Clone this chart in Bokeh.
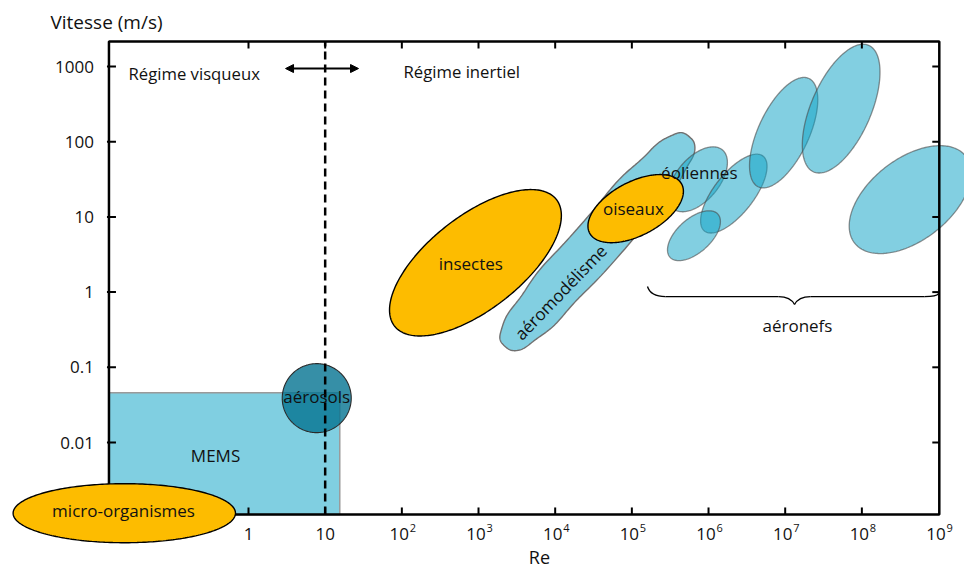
import numpy as np
from bokeh.plotting import figure
from bokeh.models import Range1d, Arrow, NormalHead, ColumnDataSource
from bokeh.core.properties import value
from bokeh.embed import file_html
from bokeh.resources import INLINE

FONT = "Open Sans"
FS = "17px"

# ---------------- data ----------------
re_ticks = [1, 10, 1e2, 1e3, 1e4, 1e5, 1e6, 1e7, 1e8, 1e9]
re_tick_base = ["1", "10", "10", "10", "10", "10", "10", "10", "10", "10"]
re_tick_exp = ["", "", "2", "3", "4", "5", "6", "7", "8", "9"]
v_ticks = [0.01, 0.1, 1, 10, 100, 1000]
v_tick_labels = ["0.01", "0.1", "1", "10", "100", "1000"]

re_critical = 10  # viscous / inertial transition

# orange domains: log10 centres, half axes (decades), tilt (deg)
orange_names = ["micro-organismes", "insectes", "oiseaux"]
orange_log_re = [-1.62, 2.96, 5.05]
orange_log_v = [-2.94, 0.39, 1.11]
orange_half_major = [1.45, 1.34, 0.68]
orange_half_minor = [0.385, 0.61, 0.35]
orange_tilt = [0, 38, 28]

# blue domains (éoliennes, aéronefs)
blue_log_re = [5.86, 6.33, 5.81, 6.98, 7.73, 8.63]
blue_log_v = [1.50, 1.31, 0.75, 2.12, 2.44, 1.23]
blue_half_major = [0.50, 0.62, 0.42, 0.78, 0.90, 0.92]
blue_half_minor = [0.28, 0.26, 0.22, 0.33, 0.39, 0.53]
blue_tilt = [50, 52, 42, 65, 66.5, 38]

# aéromodélisme
model_log_re, model_log_v = 4.55, 0.67
model_half_major, model_half_minor, model_tilt = 1.82, 0.32, 48.7

# aérosols
aerosol_log_re, aerosol_log_v, aerosol_half = 0.89, -1.41, 0.45

# MEMS
mems_re = [0.0151, 15.5]
mems_v = [0.0011, 0.0458]

# labels
label_text = ["MEMS", "micro-organismes", "aérosols", "insectes",
              "aéromodélisme", "oiseaux", "éoliennes", "aéronefs"]
label_log_re = [-0.43, -1.63, 0.89, 2.90, 4.07, 5.02, 5.88, 7.16]
label_log_v = [-2.17, -2.90, -1.39, 0.38, 0.00, 1.11, 1.59, -0.44]
label_angle = [0, 0, 0, 0, 46, 0, 0, 0]

# aéronefs brace (log10 Re, log10 V)
brace_curve_x0 = [5.204, 6.913, 7.122, 8.817]
brace_curve_y0 = [0.074, -0.059, -0.165, -0.059]
brace_curve_x1 = [5.439, 7.122, 7.330, 9.000]
brace_curve_y1 = [-0.059, -0.165, -0.059, -0.019]
brace_curve_cx = [5.243, 7.069, 7.174, 8.973]
brace_curve_cy = [-0.059, -0.059, -0.059, -0.059]
brace_line_x0 = [5.439, 7.330]
brace_line_x1 = [6.913, 8.817]
brace_line_y = [-0.059, -0.059]

# ---------------- layout ----------------
W, H = 964, 568
X_LO, X_HI = -3.2347, 9.3387
Y_LO, Y_HI = -3.6755, 3.8777
PX_X = W / (X_HI - X_LO)
PX_Y = H / (Y_HI - Y_LO)
ASPECT = PX_X / PX_Y
BOX_L, BOX_R, BOX_B, BOX_T = 10**-1.82, 10**9.01, 10**-2.957, 10**3.332

p = figure(width=W, height=H, x_axis_type="log", y_axis_type="log",
           x_range=Range1d(10**X_LO, 10**X_HI), y_range=Range1d(10**Y_LO, 10**Y_HI),
           x_axis_location=None, y_axis_location=None,
           output_backend="svg", toolbar_location=None, min_border=0)
p.outline_line_color = None
p.grid.visible = False
p.background_fill_color = "white"
p.border_fill_color = "white"


def shape(lx, ly, a, b, tilt, n=2.0, k=260, wobble=0.0):
    t = np.linspace(0, 2 * np.pi, k)
    c, s = np.cos(t), np.sin(t)
    ex = a * np.sign(c) * np.abs(c) ** (2 / n)
    ey = b * np.sign(s) * np.abs(s) ** (2 / n)
    if wobble:
        ey = ey + wobble * np.sign(s) * np.sin(11 * t) * np.abs(s)
    th = np.radians(tilt)
    X = lx + ex * np.cos(th) - ey * np.sin(th)
    Y = ly + (ex * np.sin(th) + ey * np.cos(th)) * ASPECT
    return 10 ** X, 10 ** Y


BLUE = "#10A3C6"
BLUE_A = 0.52
ORANGE = "#FDBC00"

# MEMS
p.quad(left=[mems_re[0]], right=[mems_re[1]], bottom=[mems_v[0]], top=[mems_v[1]],
       fill_color="#80CFE1", line_color="#9a9a9a", line_width=1.5)

# aéromodélisme
mx, my = shape(model_log_re, model_log_v, model_half_major, model_half_minor, model_tilt,
               n=3.0, k=400, wobble=0.012)
p.patch(mx, my, fill_color=BLUE, fill_alpha=BLUE_A, line_color="#707070", line_width=1.4)

# blue ellipses
bxs, bys = [], []
for i in range(len(blue_log_re)):
    x, y = shape(blue_log_re[i], blue_log_v[i], blue_half_major[i], blue_half_minor[i], blue_tilt[i])
    bxs.append(x); bys.append(y)
p.patches(bxs, bys, fill_color=BLUE, fill_alpha=BLUE_A, line_color="#4a4a4a",
          line_alpha=0.6, line_width=1.3)

# insectes, oiseaux
oxs, oys = [], []
for i in (1, 2):
    x, y = shape(orange_log_re[i], orange_log_v[i], orange_half_major[i], orange_half_minor[i], orange_tilt[i])
    oxs.append(x); oys.append(y)
p.patches(oxs, oys, fill_color=ORANGE, line_color="black", line_width=1.4)

# aérosols
ax_, ay_ = shape(aerosol_log_re, aerosol_log_v, aerosol_half, aerosol_half, 0)
p.patch(ax_, ay_, fill_color="#047391", fill_alpha=0.8, line_color="#2a2a2a", line_width=1.1)

# frame
p.quad(left=[BOX_L], right=[BOX_R], bottom=[BOX_B], top=[BOX_T], fill_color=None,
       line_color="black", line_width=2.5)
tick_dy = 10 ** (7 / PX_Y)
tick_dx = 10 ** (7 / PX_X)
inner_x = re_ticks[:-1]
p.segment(x0=inner_x, x1=inner_x, y0=[BOX_B] * len(inner_x), y1=[BOX_B * tick_dy] * len(inner_x),
          line_color="black", line_width=2)
p.segment(x0=inner_x, x1=inner_x, y0=[BOX_T] * len(inner_x), y1=[BOX_T / tick_dy] * len(inner_x),
          line_color="black", line_width=2)
p.segment(x0=[BOX_L / 10 ** (2 / PX_X)] * len(v_ticks), x1=[BOX_L * tick_dx] * len(v_ticks),
          y0=v_ticks, y1=v_ticks, line_color="black", line_width=2)
p.segment(x0=[BOX_R] * len(v_ticks), x1=[BOX_R / tick_dx] * len(v_ticks),
          y0=v_ticks, y1=v_ticks, line_color="black", line_width=2)

# critical Reynolds line
p.segment(x0=[re_critical], x1=[re_critical], y0=[BOX_B], y1=[BOX_T],
          line_color="black", line_width=2.5, line_dash="8 5")

# micro-organismes (on top of the frame)
mox, moy = shape(orange_log_re[0], orange_log_v[0], orange_half_major[0], orange_half_minor[0], orange_tilt[0])
p.patch(mox, moy, fill_color=ORANGE, line_color="black", line_width=1.4)

# arrow
p.add_layout(Arrow(x_start=10 ** 0.483, x_end=10 ** 1.435, y_start=10 ** 2.973, y_end=10 ** 2.973,
                   line_width=2, line_color="black",
                   start=NormalHead(size=8, fill_color="black", line_color="black"),
                   end=NormalHead(size=8, fill_color="black", line_color="black")))

# brace
p.quadratic(x0=[10 ** v for v in brace_curve_x0], y0=[10 ** v for v in brace_curve_y0],
            x1=[10 ** v for v in brace_curve_x1], y1=[10 ** v for v in brace_curve_y1],
            cx=[10 ** v for v in brace_curve_cx], cy=[10 ** v for v in brace_curve_cy],
            line_color="black", line_width=1.3)
p.segment(x0=[10 ** v for v in brace_line_x0], x1=[10 ** v for v in brace_line_x1],
          y0=[10 ** v for v in brace_line_y], y1=[10 ** v for v in brace_line_y],
          line_color="black", line_width=1.3)

# domain labels
lab = ColumnDataSource(dict(x=[10 ** v for v in label_log_re], y=[10 ** v for v in label_log_v],
                            text=label_text, angle=label_angle))
p.text(x="x", y="y", text="text", angle="angle", angle_units="deg", source=lab,
       text_font=value(FONT), text_font_size=value(FS), text_align="center",
       text_baseline="middle", text_color="#111111")

# regime labels
p.text(x=[10 ** -1.565, 10 ** 2.022], y=[10 ** 2.91, 10 ** 2.934],
       text=["Régime visqueux", "Régime inertiel"], text_font=value(FONT),
       text_font_size=value("16.7px"), text_align="left", text_baseline="middle", text_color="#111111")

# y tick labels
p.text(x=[BOX_L] * len(v_ticks), y=v_ticks, text=v_tick_labels, x_offset=-15,
       text_font=value(FONT), text_font_size=value(FS), text_align="right",
       text_baseline="middle", text_color="#111111")

# x tick labels
xsrc = ColumnDataSource(dict(x=re_ticks, y=[BOX_B] * len(re_ticks), base=re_tick_base, exp=re_tick_exp,
                             dx=[0 if e == "" else -2.5 for e in re_tick_exp]))
p.text(x="x", y="y", text="base", x_offset="dx", y_offset=20, source=xsrc,
       text_font=value(FONT), text_font_size=value(FS), text_align="center",
       text_baseline="middle", text_color="#111111")
p.text(x="x", y="y", text="exp", x_offset=8, y_offset=14, source=xsrc,
       text_font=value(FONT), text_font_size=value("11px"), text_align="left",
       text_baseline="middle", text_color="#111111")

# axis titles
p.text(x=[10 ** 3.795], y=[BOX_B], text=["Re"], y_offset=43, text_font=value(FONT),
       text_font_size=value("18px"), text_align="center", text_baseline="middle", text_color="#111111")
p.text(x=[10 ** -2.583], y=[10 ** 3.598], text=["Vitesse (m/s)"], text_font=value(FONT),
       text_font_size=value("19px"), text_align="left", text_baseline="middle", text_color="#111111")

open("out.html", "w").write(file_html(p, INLINE))
